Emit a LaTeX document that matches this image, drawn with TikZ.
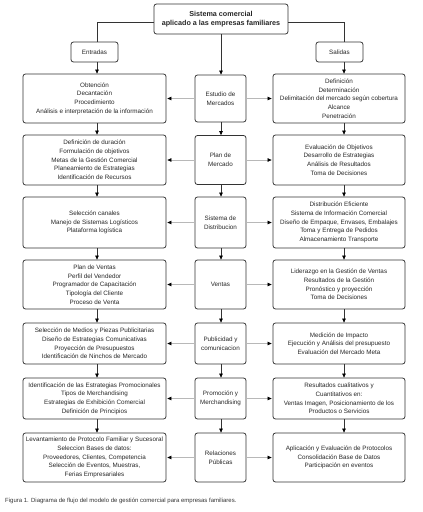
\documentclass[tikz,border=0pt]{standalone}
\usepackage{fontspec}
\setmainfont{Liberation Sans}
\usetikzlibrary{arrows.meta}
\begin{document}
\begin{tikzpicture}[x=1pt,y=-1pt,
  box/.style={draw=black!80, line width=0.8pt, rounded corners=2.5pt, align=center, inner sep=1pt,
    font=\fontsize{6.3}{8.7}\selectfont, text=black!85},
  lbox/.style={box, minimum width=143pt},
  mbox/.style={box, minimum width=51pt},
  rbox/.style={box, minimum width=132pt},
  varrow/.style={draw=black!80, line width=0.7pt, -{Triangle[length=4pt,width=3.6pt,color=black]}},
  harrow/.style={draw=black!28, line width=0.7pt, shorten >=1pt, -{Triangle[length=4pt,width=3.6pt,color=black]}},
  link/.style={draw=black!80, line width=0.7pt},
]
\useasboundingbox (0,0) rectangle (423,512);

\coordinate (cL) at (97,0);
\coordinate (cM) at (221,0);
\coordinate (cR) at (344,0);

\node[box, minimum width=134pt, minimum height=30pt, font=\bfseries\fontsize{7.2}{9.7}\selectfont] (top) at (221,19)
  {Sistema comercial\\aplicado a las empresas familiares};
\node[box, minimum width=47pt, minimum height=20pt] (ent) at (94.5,52) {Entradas};
\node[box, minimum width=47pt, minimum height=20pt] (sal) at (339.5,52) {Salidas};

% row 1
\node[lbox, minimum height=49pt] (L1) at (94.5,98.5) {Obtención\\Decantación\\Procedimiento\\Análisis e interpretación de la información};
\node[mbox, minimum height=47pt] (M1) at (220.5,98.5) {Estudio de\\Mercados};
\node[rbox, minimum height=49pt] (R1) at (339,98.5) {Definición\\Determinación\\Delimitación del mercado según cobertura\\Alcance\\Penetración};
% row 2
\node[lbox, minimum height=50pt] (L2) at (94.5,160) {Definición de duración\\Formulación de objetivos\\Metas de la Gestión Comercial\\Planeamiento de Estrategias\\Identificación de Recursos};
\node[mbox, minimum height=49pt] (M2) at (220.5,160) {Plan de\\Mercado};
\node[rbox, minimum height=50pt] (R2) at (339,160) {Evaluación de Objetivos\\Desarrollo de Estrategias\\Análisis de Resultados\\Toma de Decisiones};
% row 3
\node[lbox, minimum height=51pt] (L3) at (94.5,222.5) {Selección canales\\Manejo de Sistemas Logísticos\\Plataforma logística};
\node[mbox, minimum height=51pt] (M3) at (220.5,222.5) {Sistema de\\Distribucion};
\node[rbox, minimum height=51pt] (R3) at (339,222.5) {Distribución Eficiente\\Sistema de Información Comercial\\Diseño de Empaque, Envases, Embalajes\\Toma y Entrega de Pedidos\\Almacenamiento Transporte};
% row 4
\node[lbox, minimum height=49pt] (L4) at (94.5,284.5) {Plan de Ventas\\Perfil del Vendedor\\Programador de Capacitación\\Tipología del Cliente\\Proceso de Venta};
\node[mbox, minimum height=49pt] (M4) at (220.5,284.5) {Ventas};
\node[rbox, minimum height=49pt] (R4) at (339,284.5) {Liderazgo en la Gestión de Ventas\\Resultados de la Gestión\\Pronóstico y proyección\\Toma de Decisiones};
% row 5
\node[lbox, minimum height=41pt] (L5) at (94.5,343.5) {Selección de Medios y Piezas Publicitarias\\Diseño de Estrategias Comunicativas\\Proyección de Presupuestos\\Identificación de Ninchos de Mercado};
\node[mbox, minimum height=41pt] (M5) at (220.5,343.5) {Publicidad y\\comunicacion};
\node[rbox, minimum height=41pt] (R5) at (339,343.5) {Medición de Impacto\\Ejecución y Análisis del presupuesto\\Evaluación del Mercado Meta};
% row 6
\node[lbox, minimum height=41pt] (L6) at (94.5,398.5) {Identificación de las Estrategias Promocionales\\Tipos de Merchandising\\Estrategias de Exhibición Comercial\\Definición de Principios};
\node[mbox, minimum height=41pt] (M6) at (220.5,398.5) {Promoción y\\Merchandising};
\node[rbox, minimum height=41pt] (R6) at (339,398.5) {Resultados cualitativos y\\Cuantitativos en:\\Ventas Imagen, Posicionamiento de los\\Productos o Servicios};
% row 7
\node[lbox, minimum height=49pt] (L7) at (94.5,457.5) {Levantamiento de Protocolo Familiar y Sucesoral\\Seleccion Bases de datos:\\Proveedores, Clientes, Competencia\\Selección de Eventos, Muestras,\\Ferias Empresariales};
\node[mbox, minimum height=49pt] (M7) at (220.5,457.5) {Relaciones\\Públicas};
\node[rbox, minimum height=49pt] (R7) at (339,457.5) {Aplicación y Evaluación de Protocolos\\Consolidación Base de Datos\\Participación en eventos};

\node[anchor=west, inner sep=0pt, font=\fontsize{6}{7}\selectfont, text=black!80] (cap) at (5,501)
  {Figura 1. Diagrama de flujo del modelo de gestión comercial para empresas familiares.};

% top connections
\draw[link] ([yshift=-3pt]top.west) -| (ent.north -| cL);
\draw[link] ([yshift=-3pt]top.east) -| (sal.north -| cR);
\draw[varrow] (top.south -| cM) -- (M1.north -| cM);
\draw[varrow] (ent.south -| cL) -- (L1.north -| cL);
\draw[varrow] (sal.south -| cR) -- (R1.north -| cR);

% vertical chains
\foreach \a/\b in {1/2,2/3,3/4,4/5,5/6,6/7}{
  \draw[varrow] (L\a.south -| cL) -- (L\b.north -| cL);
  \draw[varrow] (M\a.south -| cM) -- (M\b.north -| cM);
  \draw[varrow] (R\a.south -| cR) -- (R\b.north -| cR);
}
% horizontal
\foreach \i in {1,...,7}{
  \draw[harrow] (M\i.west) -- (L\i.east);
  \draw[harrow] (M\i.east) -- (R\i.west);
}
\end{tikzpicture}
\end{document}
